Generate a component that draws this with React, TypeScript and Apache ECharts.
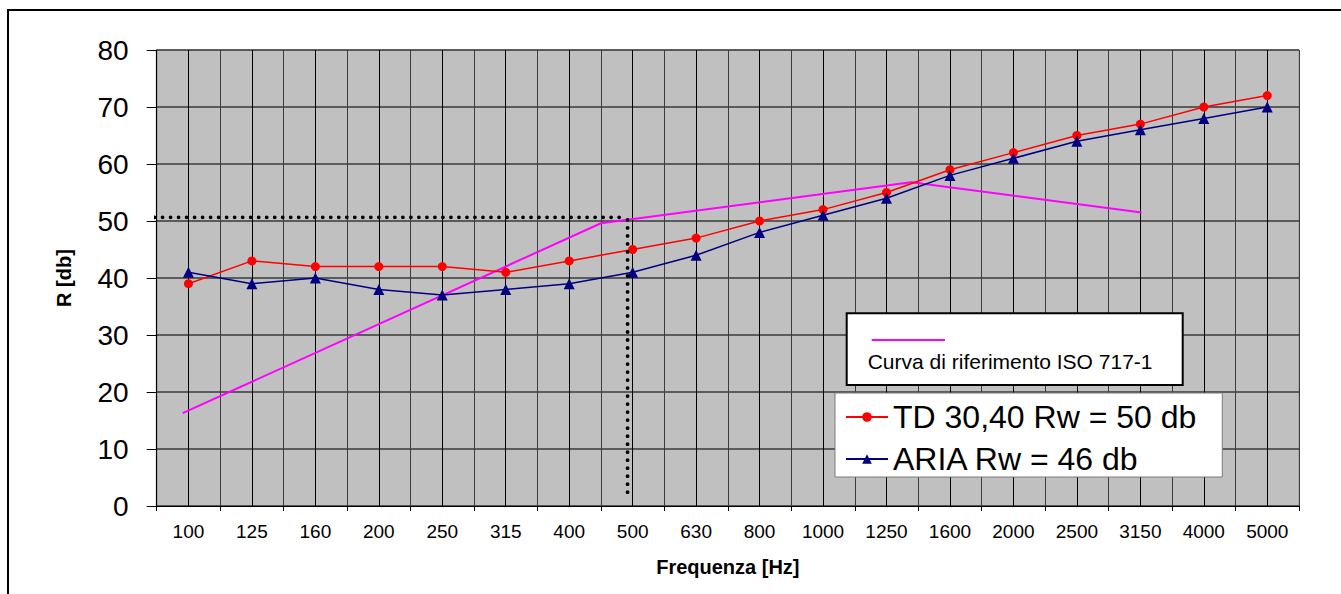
import React, { useEffect, useRef } from "react";
import * as echarts from "echarts";

const categories = ["100", "125", "160", "200", "250", "315", "400", "500", "630", "800", "1000", "1250", "1600", "2000", "2500", "3150", "4000", "5000"];
const tdValues = [39, 43, 42, 42, 42, 41, 43, 45, 47, 50, 52, 55, 59, 62, 65, 67, 70, 72];
const ariaValues = [41, 39, 40, 38, 37, 38, 39, 41, 44, 48, 51, 54, 58, 61, 64, 66, 68, 70];
// reference curve, x in category-width units (0 = left edge of plot, 18 = right edge)
const isoCurve = [[0.41, 16.3], [7.0, 49.6], [11.89, 56.8], [15.52, 51.5]];
const rwHLine = [[-0.16, 50.65], [7.33, 50.65]];
const rwVLine = [[7.42, 50.2], [7.42, 2.3]];
const yMin = 0;
const yMax = 80;
const yStep = 10;

const TD_NAME = "TD 30,40 Rw = 50 db";
const ARIA_NAME = "ARIA Rw = 46 db";
const ISO_NAME = "Curva di riferimento ISO 717-1";
const FONT = "Liberation Sans, Arial, Helvetica, sans-serif";

export default function App() {
  const ref = useRef<HTMLDivElement>(null);
  useEffect(() => {
    const chart = echarts.init(ref.current as HTMLDivElement, null, { renderer: "svg" });
    chart.setOption({
      animation: false,
      backgroundColor: "#ffffff",
      textStyle: { fontFamily: FONT },
      grid: {
        left: 156.7,
        top: 50,
        right: 42,
        bottom: 88,
        show: true,
        backgroundColor: "#C0C0C0",
        borderColor: "#9a9a9a",
        borderWidth: 1,
        containLabel: false,
        outerBoundsMode: "none",
      },
      legend: {
        data: [TD_NAME, ARIA_NAME],
        orient: "vertical",
        left: 835,
        top: 393,
        backgroundColor: "#ffffff",
        borderColor: "#7a7a7a",
        borderWidth: 1,
        borderRadius: 0,
        padding: [8, 26, 2, 10],
        itemWidth: 42,
        itemHeight: 12,
        itemGap: 10,
        selectedMode: false,
        textStyle: { fontSize: 32, lineHeight: 32, color: "#000", fontFamily: FONT },
      },
      xAxis: [
        {
          type: "category",
          data: categories,
          boundaryGap: true,
          name: "Frequenza [Hz]",
          nameLocation: "middle",
          nameGap: 51,
          nameTextStyle: { fontSize: 20, fontWeight: "bold", color: "#000", fontFamily: FONT },
          axisLine: { show: true, lineStyle: { color: "#000", width: 1.2 } },
          axisTick: { show: true, length: 5, lineStyle: { color: "#000" } },
          axisLabel: { fontSize: 19, color: "#000", margin: 16, interval: 0, fontFamily: FONT },
          splitLine: { show: false },
        },
        {
          type: "value",
          min: 0,
          max: 18,
          interval: 0.5,
          position: "bottom",
          axisLine: { show: false },
          axisTick: { show: false },
          axisLabel: { show: false },
          splitLine: { show: true, lineStyle: { color: ["#3c3c3c", "#000000"], width: 1 } },
        },
      ],
      yAxis: {
        type: "value",
        min: yMin,
        max: yMax,
        interval: yStep,
        name: "R [db]",
        nameLocation: "middle",
        nameGap: 83,
        nameRotate: 90,
        nameTextStyle: { fontSize: 20, fontWeight: "bold", color: "#000", fontFamily: FONT },
        axisLine: { show: true, lineStyle: { color: "#000", width: 1.2 } },
        axisTick: { show: true, inside: false, length: 10, lineStyle: { color: "#000" } },
        axisLabel: { fontSize: 28, color: "#000", margin: 28, fontFamily: FONT },
        splitLine: { show: true, lineStyle: { color: "#3a3a3a", width: 1.5 } },
      },
      series: [
        {
          name: ISO_NAME,
          type: "line",
          xAxisIndex: 1,
          data: isoCurve,
          showSymbol: false,
          symbol: "none",
          lineStyle: { color: "#FF00FF", width: 2 },
          z: 3,
        },
        {
          name: TD_NAME,
          type: "line",
          xAxisIndex: 0,
          data: tdValues,
          symbol: "circle",
          symbolSize: 9,
          itemStyle: { color: "#FF0000" },
          lineStyle: { color: "#FF0000", width: 1.5 },
          z: 4,
        },
        {
          name: ARIA_NAME,
          type: "line",
          xAxisIndex: 0,
          data: ariaValues,
          symbol: "triangle",
          symbolSize: 11,
          itemStyle: { color: "#000080" },
          lineStyle: { color: "#000080", width: 1.5 },
          z: 4,
        },
        {
          name: "Rw-h",
          type: "line",
          xAxisIndex: 1,
          data: rwHLine,
          symbol: "none",
          clip: false,
          lineStyle: { color: "#000", width: 3.8, type: [0.01, 8], cap: "round" },
          z: 5,
        },
        {
          name: "Rw-v",
          type: "line",
          xAxisIndex: 1,
          data: rwVLine,
          symbol: "none",
          clip: false,
          lineStyle: { color: "#000", width: 3.8, type: [0.01, 8], cap: "round" },
          z: 5,
        },
      ],
      graphic: [
        {
          type: "rect",
          z: 100,
          silent: true,
          shape: { x: 8, y: 10, width: 1345, height: 600 },
          style: { fill: "none", stroke: "#000", lineWidth: 2 },
        },
        {
          type: "rect",
          z: 50,
          shape: { x: 846.7, y: 313.3, width: 336, height: 71.7 },
          style: { fill: "#ffffff", stroke: "#000", lineWidth: 2 },
        },
        {
          type: "line",
          z: 51,
          shape: { x1: 871.7, y1: 340, x2: 945, y2: 340 },
          style: { stroke: "#FF00FF", lineWidth: 2 },
        },
        {
          type: "text",
          z: 51,
          x: 867.7,
          y: 361,
          style: {
            text: ISO_NAME,
            fontSize: 21,
            fontFamily: FONT,
            fill: "#000",
            verticalAlign: "middle",
            align: "left",
          },
        },
      ],
    });
    return () => chart.dispose();
  }, []);
  return (
    <div
      ref={ref}
      style={{ position: "fixed", left: 0, top: 0, width: 1341, height: 594, background: "#fff" }}
    />
  );
}
